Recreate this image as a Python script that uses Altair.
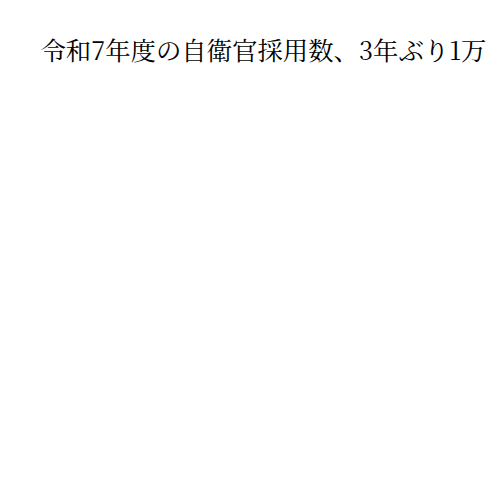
import altair as alt
import pandas as pd

title_text = "令和7年度の自衛官採用数、3年ぶり1万"
categories = []
values = []

df = pd.DataFrame({"category": categories, "value": values})

chart = alt.Chart(df).mark_bar().encode(
    x=alt.X("category:N", axis=None),
    y=alt.Y("value:Q", axis=None),
).properties(
    width=459,
    height=420,
    autosize=alt.AutoSizeParams(type="none"),
    padding={"left": 33, "top": 59, "right": 0, "bottom": 0},
    title=alt.TitleParams(
        text=title_text,
        anchor="start",
        font="Noto Serif CJK JP, serif",
        fontSize=25.8,
        fontWeight="normal",
        color="#000000",
        offset=4,
    ),
).configure_view(stroke=None)

chart.save("out.html", embed_options={"renderer": "svg", "actions": False})
